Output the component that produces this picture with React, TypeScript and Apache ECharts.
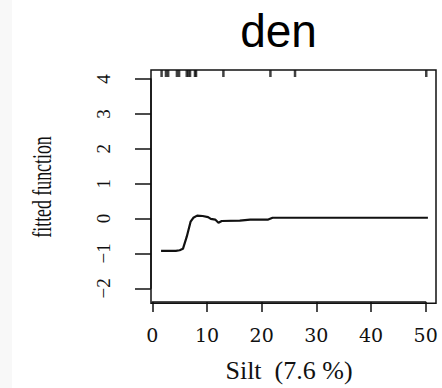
import React, { useEffect, useRef } from "react";
import * as echarts from "echarts";

// Fitted partial-dependence curve: Silt (%) vs fitted function
const siltX = [1.6, 4.3, 5.0, 5.6, 6.3, 7.0, 7.5, 8.2, 9.2, 10.2, 10.7, 11.5, 12.1, 12.7, 16.0, 17.9, 21.2, 22.0, 50.4];
const fitted = [-0.82, -0.82, -0.8, -0.76, -0.42, 0.0, 0.11, 0.17, 0.16, 0.13, 0.08, 0.06, -0.03, 0.02, 0.03, 0.06, 0.06, 0.11, 0.11];
// Rug (observed silt values, deciles) on the top edge
const rugX = [1.7, 2.5, 2.9, 4.5, 4.9, 6.3, 6.6, 6.9, 7.8, 8.0, 13.0, 21.6, 26.1, 50.1];
const xTicks = [0, 10, 20, 30, 40, 50];
const yTicks = [-2, -1, 0, 1, 2, 3, 4];

const title = "den";
const xName = "Silt  (7.6 %)";
const yName = "fitted function";

// plot-region ranges (R style 4% padding)
const xMin = -0.238;
const xMax = 51.88;
const yMin = -2.288;
const yMax = 4.253;

export default function App() {
  const ref = useRef<HTMLDivElement>(null);
  useEffect(() => {
    if (!ref.current) return;
    const chart = echarts.init(ref.current, null, { renderer: "svg" });
    const serif = "Liberation Serif";
    chart.setOption({
      animation: false,
      backgroundColor: "#ffffff",
      title: {
        text: title,
        left: 278.5,
        top: 8,
        padding: 0,
        textAlign: "center",
        textStyle: { fontFamily: "Liberation Sans", fontSize: 46, fontWeight: "normal", color: "#000" },
      },
      graphic: [
        { type: "rect", z: -10, shape: { x: 0, y: 0, width: 12, height: 388 }, style: { fill: "#f8f8f8" } },
        {
          type: "text",
          x: 42,
          y: 187,
          rotation: Math.PI / 2,
          scaleX: 0.66,
          style: {
            text: yName,
            fontFamily: serif,
            fontSize: 27,
            fill: "#111",
            align: "center",
            verticalAlign: "middle",
          },
        },
      ],
      grid: [
        { left: 151, top: 70, width: 285, height: 233.3, show: true, borderColor: "#111", borderWidth: 1.5, backgroundColor: "transparent" },
        { left: 152.3, top: 79, width: 273.4, height: 214, show: false },
      ],
      xAxis: [
        { gridIndex: 0, type: "value", min: xMin, max: xMax, show: false },
        {
          gridIndex: 1,
          type: "value",
          min: 0,
          max: 50,
          interval: 10,
          position: "bottom",
          offset: 13.7,
          axisLine: { show: true, onZero: false, lineStyle: { color: "#111", width: 1.5 } },
          axisTick: { show: true, length: 10, lineStyle: { color: "#111", width: 1.5 } },
          axisLabel: { show: true, margin: 23, fontFamily: "DejaVu Serif", fontSize: 19, color: "#111", customValues: xTicks },
          splitLine: { show: false },
          name: xName,
          nameLocation: "middle",
          nameGap: 55,
          nameTextStyle: { fontFamily: serif, fontSize: 26, color: "#111" },
        },
      ],
      yAxis: [
        { gridIndex: 0, type: "value", min: yMin, max: yMax, show: false },
        {
          gridIndex: 1,
          type: "value",
          min: -2,
          max: 4,
          interval: 1,
          position: "left",
          offset: 1.3,
          axisLine: { show: true, onZero: false, lineStyle: { color: "#111", width: 1.5 } },
          axisTick: { show: true, length: 16, lineStyle: { color: "#111", width: 1.5 } },
          axisLabel: {
            show: true,
            rotate: 90,
            margin: 38,
            fontFamily: serif,
            fontSize: 19,
            color: "#111",
            customValues: yTicks,
            formatter: (v: number) => String(v).replace("-", "\u2212"),
          },
          splitLine: { show: false },
        },
      ],
      series: [
        {
          type: "line",
          xAxisIndex: 0,
          yAxisIndex: 0,
          data: siltX.map((x, i) => [x, fitted[i]]),
          showSymbol: false,
          symbol: "none",
          lineStyle: { color: "#111", width: 2.2 },
          silent: true,
        },
        {
          type: "scatter",
          xAxisIndex: 0,
          yAxisIndex: 0,
          data: rugX.map((x) => [x, yMax]),
          symbol: "rect",
          symbolSize: [2.5, 7],
          symbolOffset: [0, 3.5],
          itemStyle: { color: "#111" },
          silent: true,
        },
      ],
    });
    return () => chart.dispose();
  }, []);
  return <div ref={ref} style={{ position: "fixed", left: 0, top: 0, width: 442, height: 388 }} />;
}
